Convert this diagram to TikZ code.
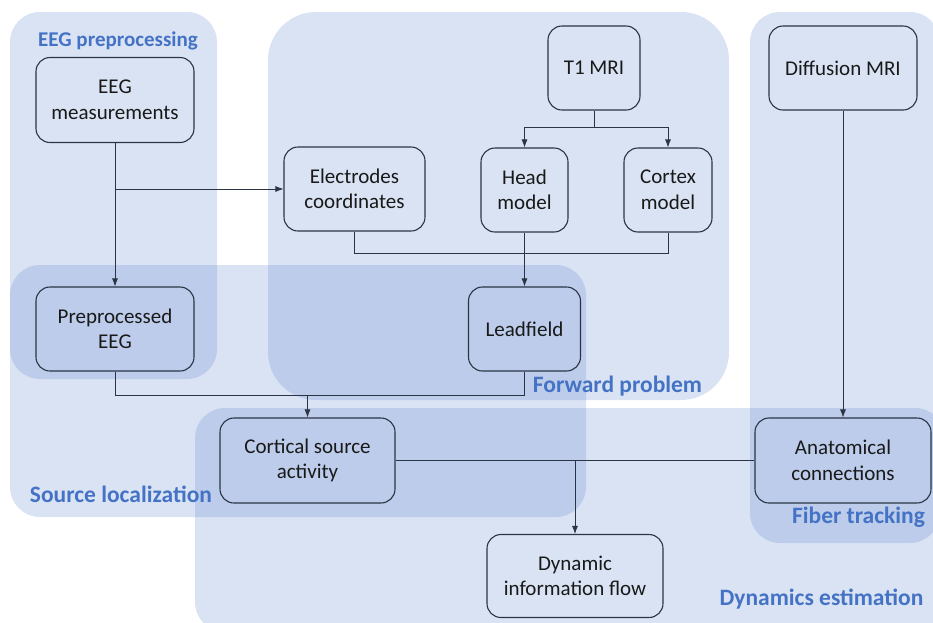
\documentclass[tikz,border=0pt]{standalone}
\usepackage{fontspec}
\setmainfont{Carlito}
\usetikzlibrary{arrows.meta}
\definecolor{accent}{HTML}{4472C4}
\definecolor{edge}{HTML}{2B3445}
\begin{document}
\begin{tikzpicture}[x=1pt,y=-1pt,
  region/.style={fill=accent,fill opacity=0.2,draw=none},
  boxnode/.style={draw=edge,line width=1.1pt,rounded corners=14pt,align=center,
    font=\fontsize{21}{25.5}\selectfont,text=black!90,inner sep=0pt},
  lbl/.style={text=accent,font=\fontsize{23.5}{26}\selectfont\bfseries,inner sep=0pt},
  conn/.style={draw=edge,line width=0.8pt},
  arr/.style={conn,-{Latex[length=8pt,width=6pt]}}]
\useasboundingbox (0,0) rectangle (933,622);
% regions
\fill[region,rounded corners=30pt] (10,12) rectangle (217,379);
\fill[region,rounded corners=48pt] (268,12) rectangle (729,400);
\fill[region,rounded corners=30pt] (750,12) rectangle (940,543);
\fill[region,rounded corners=30pt] (10,265) rectangle (586,517);
\fill[region,rounded corners=30pt] (195,408) rectangle (945,632);
% labels
\node[lbl,font=\fontsize{21}{25}\selectfont\bfseries] (lpre) at (118,41) {EEG preprocessing};
\node[lbl] (lfwd) at (617.5,386) {Forward problem};
\node[lbl] (lsrc) at (121,494) {Source localization};
\node[lbl] (lfib) at (858.5,517) {Fiber tracking};
\node[lbl] (ldyn) at (821.5,599) {Dynamics estimation};
% nodes
\node[boxnode,minimum width=158pt,minimum height=85pt] (eeg) at (115,100) {EEG\\measurements};
\node[boxnode,minimum width=141pt,minimum height=84pt] (elec) at (354.5,189) {Electrodes\\coordinates};
\node[boxnode,minimum width=92pt,minimum height=84pt] (t1) at (594,68) {T1 MRI};
\node[boxnode,minimum width=87pt,minimum height=84pt] (head) at (524.5,190) {Head\\model};
\node[boxnode,minimum width=88pt,minimum height=84pt] (cortex) at (668,190) {Cortex\\model};
\node[boxnode,minimum width=148pt,minimum height=84pt] (dmri) at (843,68) {Diffusion MRI};
\node[boxnode,minimum width=158pt,minimum height=84pt] (pre) at (115,329) {Preprocessed\\EEG};
\node[boxnode,minimum width=112pt,minimum height=84pt] (lead) at (524.5,329) {Leadfield};
\node[boxnode,minimum width=175pt,minimum height=85pt] (cort) at (307.5,460.5) {Cortical source\\activity};
\node[boxnode,minimum width=176pt,minimum height=85pt] (anat) at (843,460.5) {Anatomical\\connections};
\node[boxnode,minimum width=176pt,minimum height=83pt] (dyn) at (575,576) {Dynamic\\information flow};
% junction coordinates
\coordinate (tj) at (594,127);
\coordinate (ej) at (0,253);
\coordinate (pj) at (0,395);
% connectors
\draw[arr] (eeg.south) -- (pre.north);
\draw[arr] (eeg.south |- elec.west) -- (elec.west);
\draw[conn] (t1.south) -- (tj);
\draw[arr] (tj) -| (head.north);
\draw[arr] (tj) -| (cortex.north);
\draw[conn] (elec.south) -- (elec.south |- ej) -| (cortex.south);
\draw[arr] (head.south) -- (lead.north);
\draw[conn] (pre.south) -- (pre.south |- pj) -| (lead.south);
\draw[arr] (cort.north |- pj) -- (cort.north);
\draw[arr] (dmri.south) -- (anat.north);
\draw[conn] (cort.east) -- (anat.west);
\draw[arr] (dyn.north |- cort.east) -- (dyn.north);
\end{tikzpicture}
\end{document}
